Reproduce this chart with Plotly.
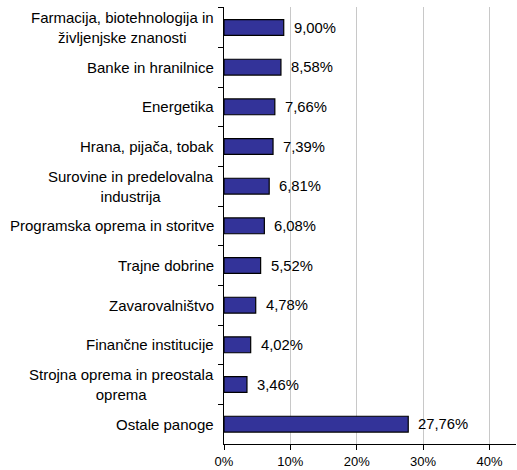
import plotly.graph_objects as go

# Sector weights (share of portfolio, %)
sectors = [
    "Farmacija, biotehnologija in<br>življenjske znanosti",
    "Banke in hranilnice",
    "Energetika",
    "Hrana, pijača, tobak",
    "Surovine in predelovalna<br>industrija",
    "Programska oprema in storitve",
    "Trajne dobrine",
    "Zavarovalništvo",
    "Finančne institucije",
    "Strojna oprema in preostala<br>oprema",
    "Ostale panoge",
]
weights = [9.00, 8.58, 7.66, 7.39, 6.81, 6.08, 5.52, 4.78, 4.02, 3.46, 27.76]
x_ticks = [0, 10, 20, 30, 40]
x_tick_labels = ["0%", "10%", "20%", "30%", "40%"]

FONT = "Liberation Sans, Arial, sans-serif"
BAR_COLOR = "#333399"

fig = go.Figure(
    go.Bar(
        x=weights,
        y=sectors,
        orientation="h",
        width=0.4,
        marker=dict(color=BAR_COLOR, line=dict(color="#000000", width=1.2)),
        hoverinfo="skip",
    )
)

annotations = []
# Category labels, centred line by line, right-aligned against the axis
for name in sectors:
    annotations.append(
        dict(
            text=name,
            x=0,
            xref="paper",
            y=name,
            yref="y",
            xanchor="right",
            yanchor="middle",
            align="center",
            xshift=-8,
            showarrow=False,
            font=dict(family=FONT, size=15, color="#000000"),
        )
    )
# Value labels beside each bar
for name, val in zip(sectors, weights):
    annotations.append(
        dict(
            text=f"{val:.2f}%".replace(".", ","),
            x=val,
            xref="x",
            y=name,
            yref="y",
            xanchor="left",
            yanchor="middle",
            xshift=8,
            showarrow=False,
            font=dict(family=FONT, size=14.8, color="#000000"),
        )
    )

fig.update_layout(
    width=517,
    height=470,
    margin=dict(l=224, r=1, t=7, b=23),
    paper_bgcolor="#ffffff",
    plot_bgcolor="#ffffff",
    showlegend=False,
    font=dict(family=FONT, color="#000000"),
    annotations=annotations,
    xaxis=dict(
        range=[0, 44],
        tickvals=x_ticks,
        ticktext=x_tick_labels,
        showgrid=True,
        gridcolor="#c8c8c8",
        gridwidth=1.3,
        zeroline=False,
        showline=True,
        linecolor="#000000",
        linewidth=1,
        ticks="outside",
        ticklen=5,
        tickcolor="#000000",
        tickfont=dict(family=FONT, size=13, color="#000000"),
        fixedrange=True,
    ),
    yaxis=dict(
        type="category",
        autorange="reversed",
        showticklabels=False,
        showgrid=False,
        zeroline=False,
        showline=True,
        linecolor="#000000",
        linewidth=1,
        ticks="outside",
        ticklen=5,
        tickcolor="#000000",
        tickson="boundaries",
        fixedrange=True,
    ),
)

fig.write_html("out.html")
